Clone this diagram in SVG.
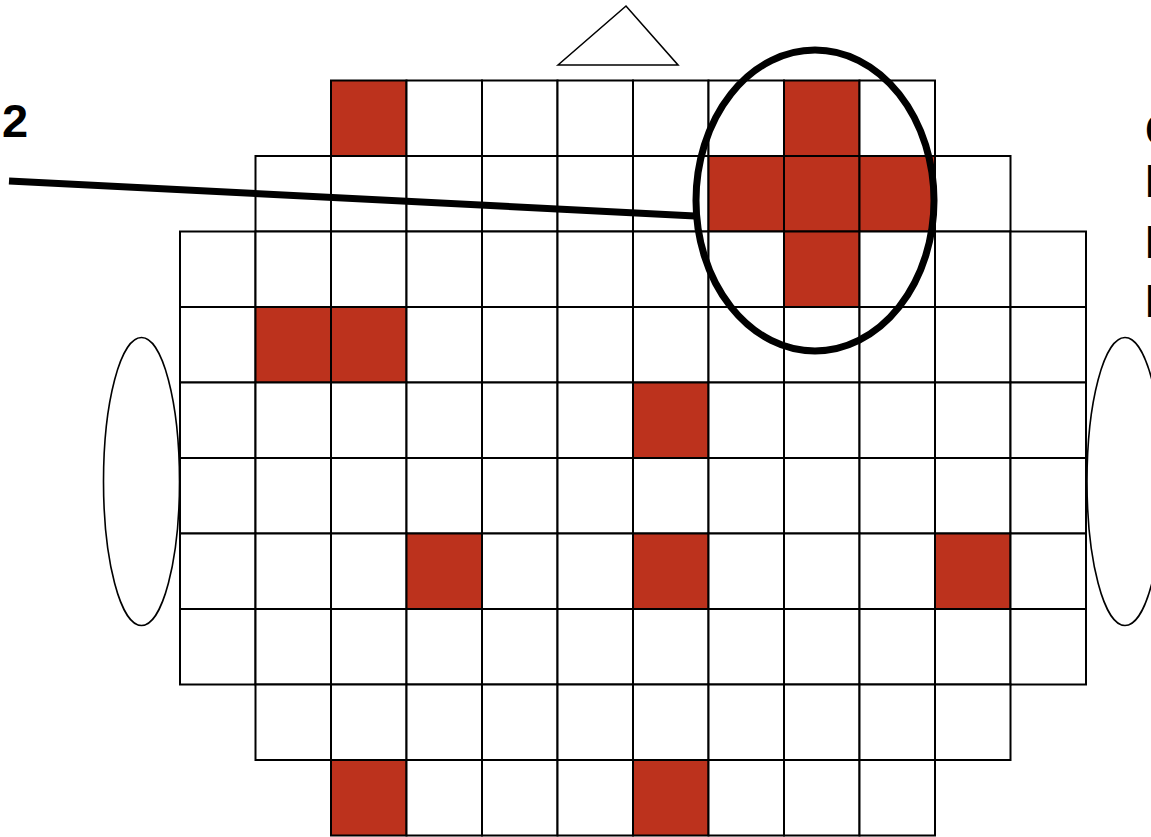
<svg xmlns="http://www.w3.org/2000/svg" width="1151" height="837" viewBox="0 0 1151 837">
<style>
.c{fill:#ffffff;stroke:#000;stroke-width:2}
.r{fill:#bc321d;stroke:#000;stroke-width:2}
.o{fill:#fff;stroke:#000;stroke-width:1.6}
.t{font-family:"Liberation Sans",Arial,sans-serif;font-weight:bold;fill:#000}
</style>
<rect width="1151" height="837" fill="#fff"/>
<g id="triangle"><polygon class="o" points="558,65 626,6 678,65"/></g>
<g id="left-ellipse"><ellipse class="o" cx="141.5" cy="481.5" rx="38" ry="144"/></g>
<g id="right-ellipse"><ellipse class="o" cx="1125" cy="481.5" rx="38" ry="144"/></g>
<g id="grid">
<!-- row 0 -->
<rect class="r" x="331" y="80.5" width="75.5" height="75.5"/>
<rect class="c" x="406.5" y="80.5" width="75.5" height="75.5"/>
<rect class="c" x="482" y="80.5" width="75.5" height="75.5"/>
<rect class="c" x="557.5" y="80.5" width="75.5" height="75.5"/>
<rect class="c" x="633" y="80.5" width="75.5" height="75.5"/>
<rect class="c" x="708.5" y="80.5" width="75.5" height="75.5"/>
<rect class="r" x="784" y="80.5" width="75.5" height="75.5"/>
<rect class="c" x="859.5" y="80.5" width="75.5" height="75.5"/>
<!-- row 1 -->
<rect class="c" x="255.5" y="156" width="75.5" height="75.5"/>
<rect class="c" x="331" y="156" width="75.5" height="75.5"/>
<rect class="c" x="406.5" y="156" width="75.5" height="75.5"/>
<rect class="c" x="482" y="156" width="75.5" height="75.5"/>
<rect class="c" x="557.5" y="156" width="75.5" height="75.5"/>
<rect class="c" x="633" y="156" width="75.5" height="75.5"/>
<rect class="r" x="708.5" y="156" width="75.5" height="75.5"/>
<rect class="r" x="784" y="156" width="75.5" height="75.5"/>
<rect class="r" x="859.5" y="156" width="75.5" height="75.5"/>
<rect class="c" x="935" y="156" width="75.5" height="75.5"/>
<!-- row 2 -->
<rect class="c" x="180" y="231.5" width="75.5" height="75.5"/>
<rect class="c" x="255.5" y="231.5" width="75.5" height="75.5"/>
<rect class="c" x="331" y="231.5" width="75.5" height="75.5"/>
<rect class="c" x="406.5" y="231.5" width="75.5" height="75.5"/>
<rect class="c" x="482" y="231.5" width="75.5" height="75.5"/>
<rect class="c" x="557.5" y="231.5" width="75.5" height="75.5"/>
<rect class="c" x="633" y="231.5" width="75.5" height="75.5"/>
<rect class="c" x="708.5" y="231.5" width="75.5" height="75.5"/>
<rect class="r" x="784" y="231.5" width="75.5" height="75.5"/>
<rect class="c" x="859.5" y="231.5" width="75.5" height="75.5"/>
<rect class="c" x="935" y="231.5" width="75.5" height="75.5"/>
<rect class="c" x="1010.5" y="231.5" width="75.5" height="75.5"/>
<!-- row 3 -->
<rect class="c" x="180" y="307" width="75.5" height="75.5"/>
<rect class="r" x="255.5" y="307" width="75.5" height="75.5"/>
<rect class="r" x="331" y="307" width="75.5" height="75.5"/>
<rect class="c" x="406.5" y="307" width="75.5" height="75.5"/>
<rect class="c" x="482" y="307" width="75.5" height="75.5"/>
<rect class="c" x="557.5" y="307" width="75.5" height="75.5"/>
<rect class="c" x="633" y="307" width="75.5" height="75.5"/>
<rect class="c" x="708.5" y="307" width="75.5" height="75.5"/>
<rect class="c" x="784" y="307" width="75.5" height="75.5"/>
<rect class="c" x="859.5" y="307" width="75.5" height="75.5"/>
<rect class="c" x="935" y="307" width="75.5" height="75.5"/>
<rect class="c" x="1010.5" y="307" width="75.5" height="75.5"/>
<!-- row 4 -->
<rect class="c" x="180" y="382.5" width="75.5" height="75.5"/>
<rect class="c" x="255.5" y="382.5" width="75.5" height="75.5"/>
<rect class="c" x="331" y="382.5" width="75.5" height="75.5"/>
<rect class="c" x="406.5" y="382.5" width="75.5" height="75.5"/>
<rect class="c" x="482" y="382.5" width="75.5" height="75.5"/>
<rect class="c" x="557.5" y="382.5" width="75.5" height="75.5"/>
<rect class="r" x="633" y="382.5" width="75.5" height="75.5"/>
<rect class="c" x="708.5" y="382.5" width="75.5" height="75.5"/>
<rect class="c" x="784" y="382.5" width="75.5" height="75.5"/>
<rect class="c" x="859.5" y="382.5" width="75.5" height="75.5"/>
<rect class="c" x="935" y="382.5" width="75.5" height="75.5"/>
<rect class="c" x="1010.5" y="382.5" width="75.5" height="75.5"/>
<!-- row 5 -->
<rect class="c" x="180" y="458" width="75.5" height="75.5"/>
<rect class="c" x="255.5" y="458" width="75.5" height="75.5"/>
<rect class="c" x="331" y="458" width="75.5" height="75.5"/>
<rect class="c" x="406.5" y="458" width="75.5" height="75.5"/>
<rect class="c" x="482" y="458" width="75.5" height="75.5"/>
<rect class="c" x="557.5" y="458" width="75.5" height="75.5"/>
<rect class="c" x="633" y="458" width="75.5" height="75.5"/>
<rect class="c" x="708.5" y="458" width="75.5" height="75.5"/>
<rect class="c" x="784" y="458" width="75.5" height="75.5"/>
<rect class="c" x="859.5" y="458" width="75.5" height="75.5"/>
<rect class="c" x="935" y="458" width="75.5" height="75.5"/>
<rect class="c" x="1010.5" y="458" width="75.5" height="75.5"/>
<!-- row 6 -->
<rect class="c" x="180" y="533.5" width="75.5" height="75.5"/>
<rect class="c" x="255.5" y="533.5" width="75.5" height="75.5"/>
<rect class="c" x="331" y="533.5" width="75.5" height="75.5"/>
<rect class="r" x="406.5" y="533.5" width="75.5" height="75.5"/>
<rect class="c" x="482" y="533.5" width="75.5" height="75.5"/>
<rect class="c" x="557.5" y="533.5" width="75.5" height="75.5"/>
<rect class="r" x="633" y="533.5" width="75.5" height="75.5"/>
<rect class="c" x="708.5" y="533.5" width="75.5" height="75.5"/>
<rect class="c" x="784" y="533.5" width="75.5" height="75.5"/>
<rect class="c" x="859.5" y="533.5" width="75.5" height="75.5"/>
<rect class="r" x="935" y="533.5" width="75.5" height="75.5"/>
<rect class="c" x="1010.5" y="533.5" width="75.5" height="75.5"/>
<!-- row 7 -->
<rect class="c" x="180" y="609" width="75.5" height="75.5"/>
<rect class="c" x="255.5" y="609" width="75.5" height="75.5"/>
<rect class="c" x="331" y="609" width="75.5" height="75.5"/>
<rect class="c" x="406.5" y="609" width="75.5" height="75.5"/>
<rect class="c" x="482" y="609" width="75.5" height="75.5"/>
<rect class="c" x="557.5" y="609" width="75.5" height="75.5"/>
<rect class="c" x="633" y="609" width="75.5" height="75.5"/>
<rect class="c" x="708.5" y="609" width="75.5" height="75.5"/>
<rect class="c" x="784" y="609" width="75.5" height="75.5"/>
<rect class="c" x="859.5" y="609" width="75.5" height="75.5"/>
<rect class="c" x="935" y="609" width="75.5" height="75.5"/>
<rect class="c" x="1010.5" y="609" width="75.5" height="75.5"/>
<!-- row 8 -->
<rect class="c" x="255.5" y="684.5" width="75.5" height="75.5"/>
<rect class="c" x="331" y="684.5" width="75.5" height="75.5"/>
<rect class="c" x="406.5" y="684.5" width="75.5" height="75.5"/>
<rect class="c" x="482" y="684.5" width="75.5" height="75.5"/>
<rect class="c" x="557.5" y="684.5" width="75.5" height="75.5"/>
<rect class="c" x="633" y="684.5" width="75.5" height="75.5"/>
<rect class="c" x="708.5" y="684.5" width="75.5" height="75.5"/>
<rect class="c" x="784" y="684.5" width="75.5" height="75.5"/>
<rect class="c" x="859.5" y="684.5" width="75.5" height="75.5"/>
<rect class="c" x="935" y="684.5" width="75.5" height="75.5"/>
<!-- row 9 -->
<rect class="r" x="331" y="760" width="75.5" height="75.5"/>
<rect class="c" x="406.5" y="760" width="75.5" height="75.5"/>
<rect class="c" x="482" y="760" width="75.5" height="75.5"/>
<rect class="c" x="557.5" y="760" width="75.5" height="75.5"/>
<rect class="r" x="633" y="760" width="75.5" height="75.5"/>
<rect class="c" x="708.5" y="760" width="75.5" height="75.5"/>
<rect class="c" x="784" y="760" width="75.5" height="75.5"/>
<rect class="c" x="859.5" y="760" width="75.5" height="75.5"/>
</g>
<g id="connectors">
<line x1="9" y1="181" x2="695" y2="216" stroke="#000" stroke-width="7"/>
</g>
<g id="highlight"><ellipse cx="815" cy="200.5" rx="119" ry="150.5" fill="none" stroke="#000" stroke-width="7"/></g>
<g id="label-2"><text class="t" x="2" y="137" font-size="47">2</text></g>
<g id="label-right">
<text class="t" x="1145" y="146" font-size="46">C</text>
<text class="t" x="1145" y="197" font-size="46">P</text>
<text class="t" x="1145" y="258" font-size="46">P</text>
<text class="t" x="1145" y="317" font-size="46">P</text>
</g>
</svg>
